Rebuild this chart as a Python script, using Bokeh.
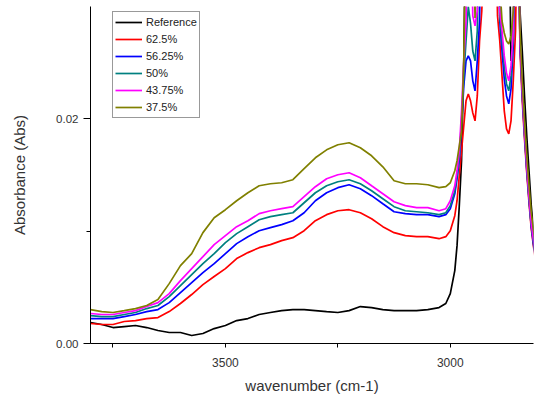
from bokeh.plotting import figure
from bokeh.models import Legend, LegendItem, FixedTicker, NumeralTickFormatter, Range1d
from bokeh.embed import file_html
from bokeh.resources import INLINE

# wavenumber grid (cm-1)
wavenumber = [3800, 3775, 3750, 3725, 3700, 3675, 3650, 3625, 3600, 3575, 3550, 3525,
              3500, 3475, 3450, 3425, 3400, 3375, 3350, 3325, 3300, 3275, 3250, 3225,
              3200, 3175, 3150, 3125, 3100, 3075, 3050, 3025,
              3010, 3000, 2990,
              2985, 2980, 2975, 2970, 2965, 2960, 2955, 2950, 2945, 2940, 2935, 2930,
              2920, 2910, 2900,
              2895, 2890, 2885, 2880, 2875, 2870, 2865, 2860, 2855, 2850, 2845, 2840,
              2835, 2830, 2825, 2820, 2815,
              2810, 2800]

reference = [0.00187, 0.00169, 0.00142, 0.00151, 0.00160, 0.00142, 0.00116, 0.00098, 0.00098, 0.00071, 0.00089, 0.00133,
             0.00160, 0.00204, 0.00222, 0.00258, 0.00276, 0.00293, 0.00302, 0.00302, 0.00293, 0.00284, 0.00276, 0.00293,
             0.00329, 0.00320, 0.00302, 0.00293, 0.00293, 0.00293, 0.00302, 0.00320,
             0.00356, 0.00444, 0.00649,
             0.00871, 0.01227, 0.01627, 0.02516, 0.04, 0.04, 0.04, 0.04, 0.04, 0.04, 0.04, 0.04,
             0.04, 0.04, 0.04,
             0.04, 0.04, 0.04, 0.04, 0.04, 0.04, 0.02516, 0.02693, 0.04, 0.04, 0.02960, 0.02604,
             0.02204, 0.01849, 0.01538, 0.01227, 0.01004,
             0.00827, 0.00604]

p625 = [0.00178, 0.00169, 0.00169, 0.00196, 0.00204, 0.00222, 0.00231, 0.00284, 0.00356, 0.00436, 0.00524, 0.00596,
        0.00667, 0.00756, 0.00809, 0.00853, 0.00880, 0.00916, 0.00942, 0.01004, 0.01093, 0.01147, 0.01182, 0.01191,
        0.01164, 0.01111, 0.01040, 0.00987, 0.00960, 0.00951, 0.00951, 0.00933,
        0.00951, 0.01004, 0.01138,
        0.01271, 0.01493, 0.01716, 0.01938, 0.02160, 0.02222, 0.02160, 0.02053, 0.01982, 0.02204, 0.02693, 0.02960,
        0.04, 0.04, 0.04,
        0.02916, 0.02693, 0.02382, 0.02071, 0.01911, 0.01867, 0.01982, 0.02338, 0.02782, 0.04, 0.02604, 0.02160,
        0.01822, 0.01520, 0.01253, 0.01022, 0.00862,
        0.00729, 0.00551]

p5625 = [0.00222, 0.00222, 0.00222, 0.00240, 0.00258, 0.00284, 0.00302, 0.00364, 0.00453, 0.00542, 0.00631, 0.00711,
         0.00800, 0.00889, 0.00951, 0.01004, 0.01031, 0.01058, 0.01093, 0.01164, 0.01271, 0.01342, 0.01387, 0.01413,
         0.01378, 0.01316, 0.01244, 0.01173, 0.01156, 0.01147, 0.01147, 0.01129,
         0.01147, 0.01200, 0.01333,
         0.01467, 0.01627, 0.01938, 0.02293, 0.02516, 0.02560, 0.02516, 0.02338, 0.02249, 0.02516, 0.02871, 0.04,
         0.04, 0.04, 0.04,
         0.04, 0.02871, 0.02604, 0.02356, 0.02204, 0.02133, 0.02267, 0.02649, 0.04, 0.04, 0.02676, 0.02213,
         0.01858, 0.01547, 0.01280, 0.01040, 0.00880,
         0.00747, 0.00569]

p50 = [0.00249, 0.00240, 0.00240, 0.00258, 0.00276, 0.00311, 0.00338, 0.00418, 0.00516, 0.00613, 0.00711, 0.00800,
       0.00898, 0.00978, 0.01040, 0.01102, 0.01129, 0.01147, 0.01164, 0.01253, 0.01342, 0.01404, 0.01440, 0.01458,
       0.01422, 0.01360, 0.01289, 0.01218, 0.01182, 0.01173, 0.01164, 0.01147,
       0.01164, 0.01227, 0.01360,
       0.01493, 0.01671, 0.01982, 0.02382, 0.02693, 0.03000, 0.02850, 0.02604, 0.02516, 0.02782, 0.04, 0.04,
       0.04, 0.04, 0.04,
       0.04, 0.02916, 0.02693, 0.02471, 0.02311, 0.02249, 0.02382, 0.02738, 0.04, 0.04, 0.02693, 0.02231,
       0.01876, 0.01564, 0.01298, 0.01058, 0.00898,
       0.00764, 0.00587]

p4375 = [0.00267, 0.00258, 0.00258, 0.00276, 0.00293, 0.00329, 0.00364, 0.00444, 0.00560, 0.00667, 0.00773, 0.00880,
         0.00960, 0.01040, 0.01093, 0.01156, 0.01182, 0.01200, 0.01218, 0.01307, 0.01396, 0.01467, 0.01502, 0.01520,
         0.01476, 0.01404, 0.01333, 0.01262, 0.01227, 0.01209, 0.01209, 0.01182,
         0.01200, 0.01271, 0.01404,
         0.01538, 0.01716, 0.02071, 0.02516, 0.02871, 0.04, 0.04, 0.02916, 0.02827, 0.02960, 0.04, 0.04,
         0.04, 0.04, 0.04,
         0.04, 0.02960, 0.02782, 0.02560, 0.02409, 0.02338, 0.02471, 0.02782, 0.04, 0.04, 0.02693, 0.02249,
         0.01893, 0.01582, 0.01316, 0.01076, 0.00916,
         0.00782, 0.00604]

p375 = [0.00302, 0.00284, 0.00276, 0.00293, 0.00311, 0.00338, 0.00391, 0.00533, 0.00693, 0.00800, 0.00987, 0.01120,
        0.01191, 0.01271, 0.01342, 0.01404, 0.01422, 0.01431, 0.01458, 0.01556, 0.01653, 0.01724, 0.01769, 0.01787,
        0.01742, 0.01671, 0.01573, 0.01449, 0.01422, 0.01422, 0.01413, 0.01387,
        0.01396, 0.01431, 0.01538,
        0.01627, 0.01760, 0.01893, 0.02516, 0.04, 0.04, 0.04, 0.04, 0.02898, 0.04, 0.04, 0.04,
        0.04, 0.04, 0.04,
        0.04, 0.032, 0.02871, 0.02764, 0.02693, 0.02667, 0.02738, 0.02960, 0.04, 0.04, 0.02780, 0.02338,
        0.01982, 0.01671, 0.01404, 0.01164, 0.01004,
        0.00871, 0.00649]

series_labels = ["Reference", "62.5%", "56.25%", "50%", "43.75%", "37.5%"]
series_values = [reference, p625, p5625, p50, p4375, p375]
series_colors = ["#000000", "#FF0000", "#0000FF", "#008080", "#FF00FF", "#808000"]

x_ticks = [3500, 3000]
x_minor = [3750, 3250]
y_ticks = [0.0, 0.02]
y_minor = [0.01]

FONT = "Liberation Sans"

p = figure(width=534, height=398, output_backend="svg", toolbar_location=None,
           x_range=Range1d(3800, 2815), y_range=Range1d(0, 0.030),
           min_border_left=90, min_border_right=1, min_border_top=6, min_border_bottom=55)
p.outline_line_color = None
p.grid.visible = False
p.background_fill_color = "white"
p.border_fill_color = "white"

renderers = []
for vals, col in zip(series_values, series_colors):
    r = p.line(wavenumber, vals, line_color=col, line_width=1.7)
    renderers.append(r)

p.xaxis.ticker = FixedTicker(ticks=x_ticks, minor_ticks=x_minor)
p.yaxis.ticker = FixedTicker(ticks=y_ticks, minor_ticks=y_minor)
p.yaxis.formatter = NumeralTickFormatter(format="0.00")

p.xaxis.axis_label = "wavenumber (cm-1)"
p.yaxis.axis_label = "Absorbance (Abs)"

for ax in (p.xaxis[0], p.yaxis[0]):
    ax.axis_line_color = "black"
    ax.axis_line_width = 1
    ax.major_tick_line_color = "black"
    ax.minor_tick_line_color = "black"
    ax.major_tick_in = 0
    ax.minor_tick_in = 0
    ax.major_label_text_font = FONT
    ax.major_label_text_color = "#333333"
    ax.axis_label_text_font = FONT
    ax.axis_label_text_font_style = "normal"
    ax.axis_label_text_font_size = "15px"
    ax.axis_label_text_color = "#333333"

p.xaxis.major_tick_out = 4
p.xaxis.minor_tick_out = 4
p.xaxis.major_label_standoff = 10
p.xaxis.major_label_text_font_size = "12px"
p.xaxis.axis_label_standoff = 7

p.yaxis.major_tick_out = 7
p.yaxis.minor_tick_out = 4
p.yaxis.major_label_standoff = 5
p.yaxis.major_label_text_font_size = "11.5px"
p.yaxis.axis_label_standoff = 25

items = [LegendItem(label=lab, renderers=[r]) for lab, r in zip(series_labels, renderers)]
legend = Legend(items=items, location=(22, 225), margin=0, padding=2, spacing=1,
                label_height=16, glyph_height=16, glyph_width=27, label_standoff=4,
                label_text_font=FONT, label_text_font_size="11px", label_text_color="#222222",
                border_line_color="#333333", border_line_width=1,
                background_fill_color="white", background_fill_alpha=1.0)
p.add_layout(legend)

open("out.html", "w").write(file_html(p, INLINE))
